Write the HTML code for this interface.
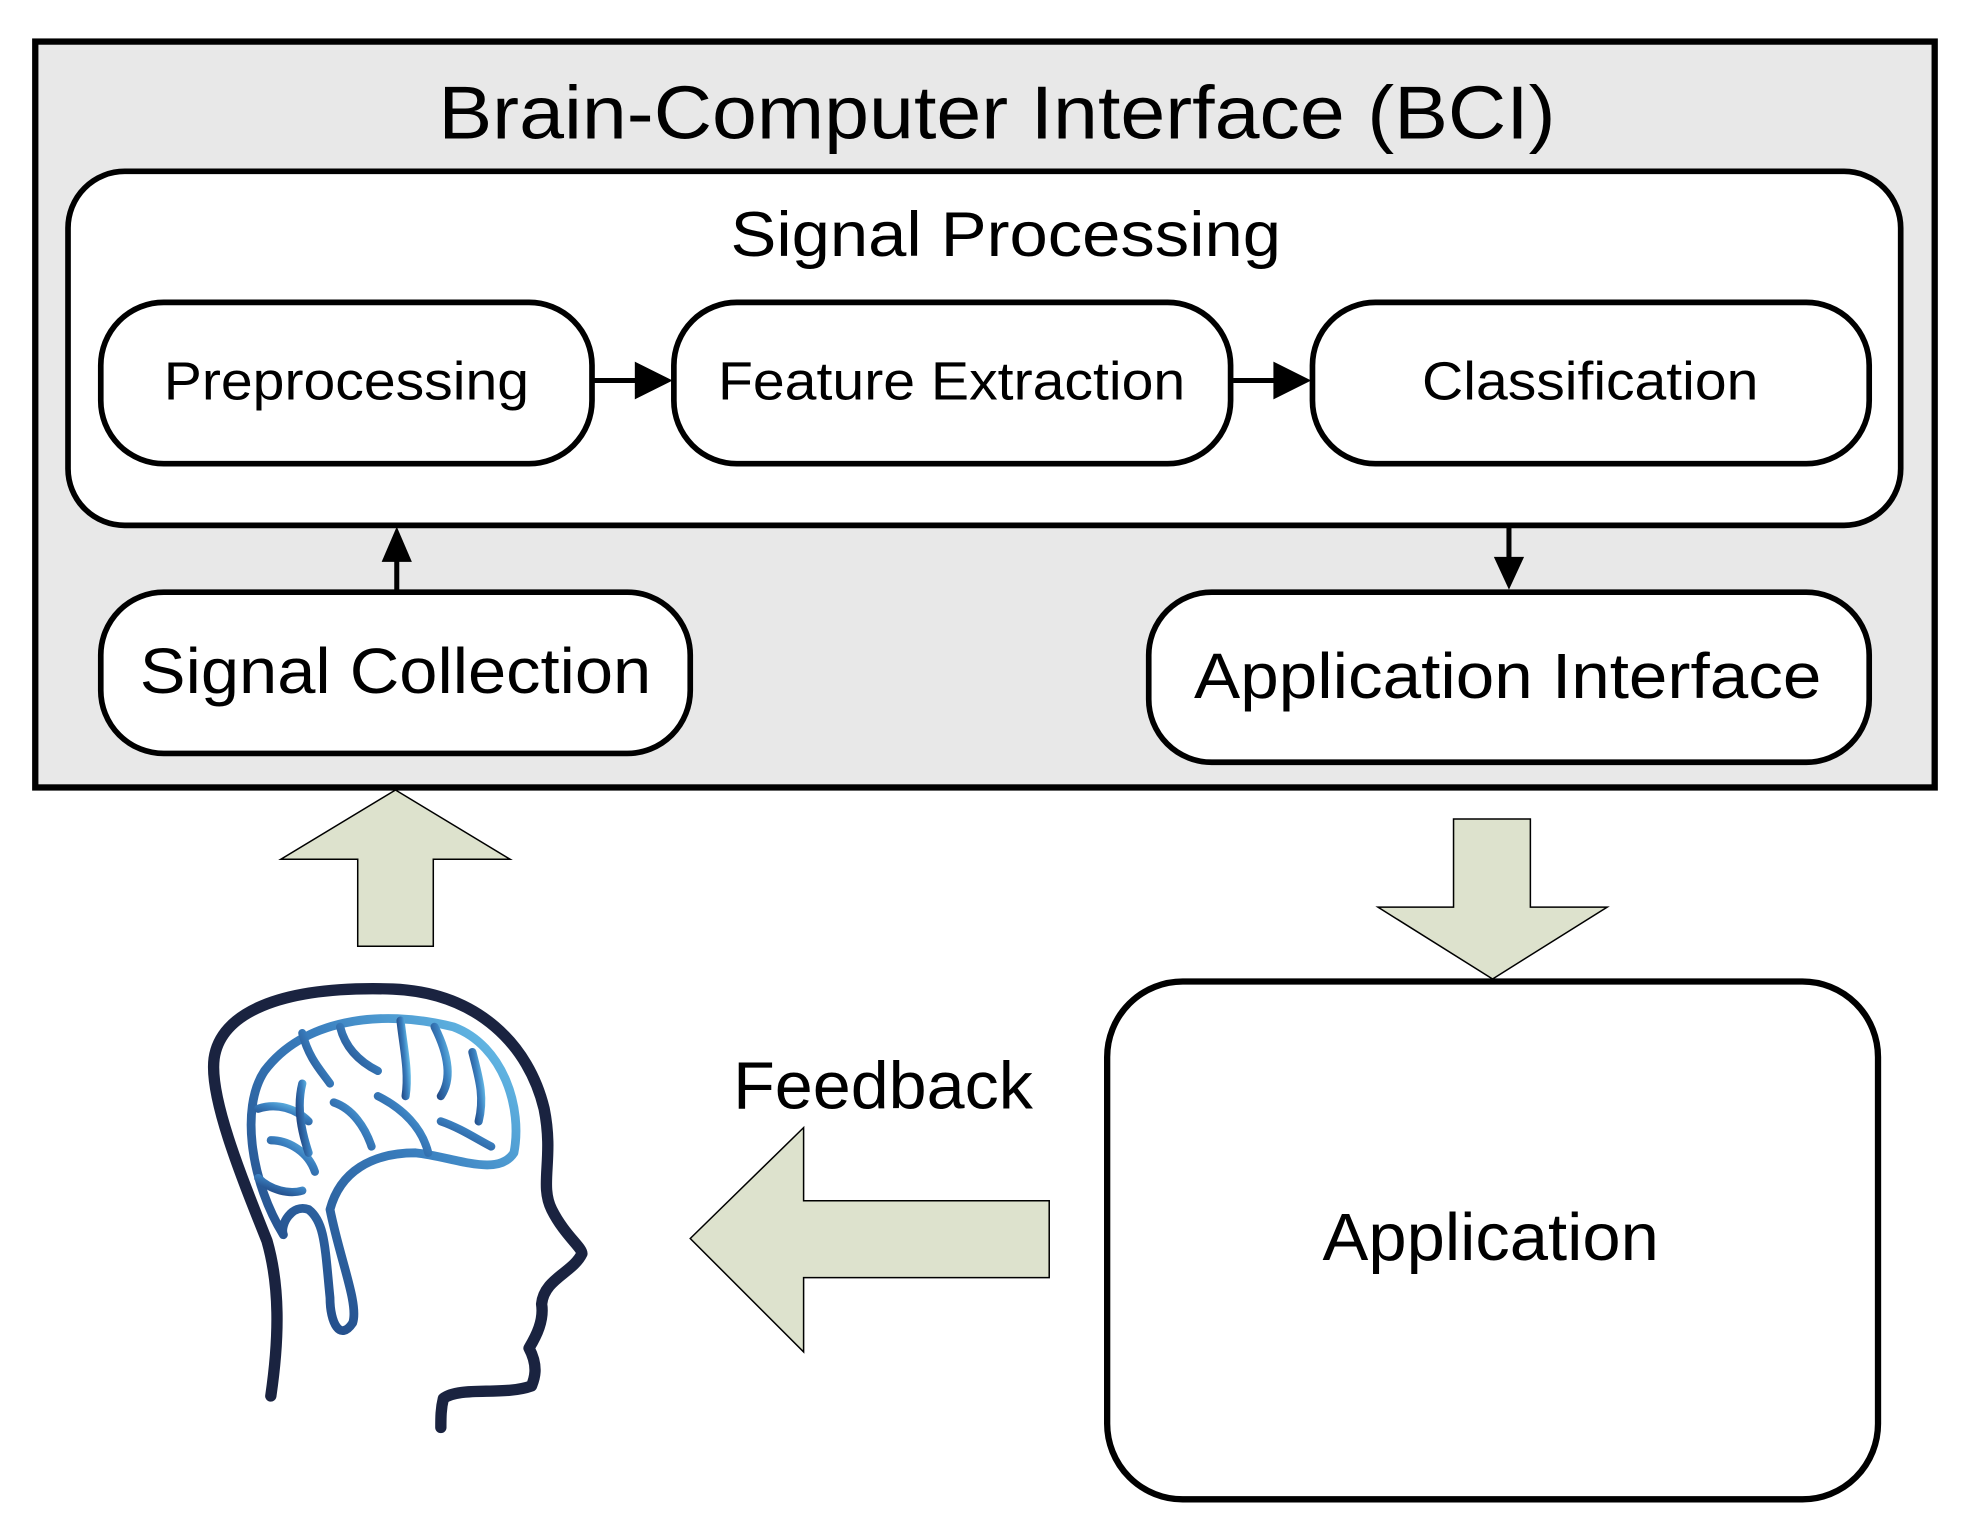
<!DOCTYPE html>
<html><head><meta charset="utf-8"><style>
html,body{margin:0;padding:0;background:#fff;}
svg{display:block;}
text{font-family:"Liberation Sans",Arial,sans-serif;fill:#000;}
</style></head><body>
<svg width="1975" height="1522" viewBox="0 0 1568 1208" preserveAspectRatio="none" xmlns="http://www.w3.org/2000/svg">
<defs>
<linearGradient id="bg" x1="0" y1="1" x2="1" y2="0">
<stop offset="0" stop-color="#1d3f7a"/><stop offset="0.6" stop-color="#3a7fbf"/><stop offset="1" stop-color="#6cc4ec"/>
</linearGradient>
</defs>
<rect x="28" y="33" width="1508" height="592" fill="#e8e8e8" stroke="#000" stroke-width="5"/>
<text x="348" y="110" font-size="60" textLength="887" lengthAdjust="spacingAndGlyphs">Brain-Computer Interface (BCI)</text>
<rect x="54" y="136" width="1455" height="281" rx="45" fill="#fff" stroke="#000" stroke-width="4.5"/>
<text x="580" y="203" font-size="50" textLength="437" lengthAdjust="spacingAndGlyphs">Signal Processing</text>
<rect x="80" y="240" width="390" height="128" rx="50" fill="#fff" stroke="#000" stroke-width="4.5"/>
<text x="130" y="317" font-size="43" textLength="290" lengthAdjust="spacingAndGlyphs">Preprocessing</text>
<rect x="535" y="240" width="442" height="128" rx="50" fill="#fff" stroke="#000" stroke-width="4.5"/>
<text x="570" y="317" font-size="43" textLength="371" lengthAdjust="spacingAndGlyphs">Feature Extraction</text>
<rect x="1042" y="240" width="442" height="128" rx="50" fill="#fff" stroke="#000" stroke-width="4.5"/>
<text x="1129" y="317" font-size="43" textLength="267" lengthAdjust="spacingAndGlyphs">Classification</text>
<line x1="472" y1="302" x2="508" y2="302" stroke="#000" stroke-width="4"/>
<path d="M504,287 L534,302 L504,317 Z" fill="#000"/>
<line x1="979" y1="302" x2="1015" y2="302" stroke="#000" stroke-width="4"/>
<path d="M1011,287 L1041,302 L1011,317 Z" fill="#000"/>
<rect x="80" y="470" width="468" height="128" rx="50" fill="#fff" stroke="#000" stroke-width="4.5"/>
<text x="111" y="550" font-size="51" textLength="406" lengthAdjust="spacingAndGlyphs">Signal Collection</text>
<rect x="912" y="470" width="572" height="135" rx="50" fill="#fff" stroke="#000" stroke-width="4.5"/>
<text x="948" y="554" font-size="51" textLength="498" lengthAdjust="spacingAndGlyphs">Application Interface</text>
<line x1="315" y1="470" x2="315" y2="440" stroke="#000" stroke-width="4"/>
<path d="M303,446 L315,418 L327,446 Z" fill="#000"/>
<line x1="1198" y1="418" x2="1198" y2="446" stroke="#000" stroke-width="4"/>
<path d="M1186,442 L1198,468 L1210,442 Z" fill="#000"/>
<path d="M314,627 L405,682 L344,682 L344,751 L284,751 L284,682 L223,682 Z" fill="#dde2cd" stroke="#000" stroke-width="1.2"/>
<path d="M1154,650 L1215,650 L1215,720 L1276,720 L1185,777 L1094,720 L1154,720 Z" fill="#dde2cd" stroke="#000" stroke-width="1.2"/>
<path d="M548,983 L638,895 L638,953 L833,953 L833,1014 L638,1014 L638,1073 Z" fill="#dde2cd" stroke="#000" stroke-width="1.2"/>
<rect x="879" y="779" width="612" height="411" rx="60" fill="#fff" stroke="#000" stroke-width="5"/>
<text x="1050" y="1000" font-size="53" textLength="267" lengthAdjust="spacingAndGlyphs">Application</text>
<text x="582" y="880" font-size="53" textLength="238" lengthAdjust="spacingAndGlyphs">Feedback</text>
<!-- head -->
<path d="M215,1108 C222,1060 222,1020 212,985 C190,930 166,870 170,840 C175,805 220,782 312,785 C380,788 420,830 432,880 C440,920 428,940 438,960 C448,980 462,990 462,995 C455,1010 432,1015 430,1035 C432,1048 426,1060 420,1070 C428,1085 424,1095 422,1100 C400,1108 365,1100 352,1110 C350,1118 350,1125 350,1133" fill="none" stroke="#1a2340" stroke-width="9" stroke-linecap="round" stroke-linejoin="round"/>
<path d="M225,980 C200,940 190,880 210,850 C240,810 300,800 360,815 C400,830 415,880 408,915 C395,935 360,918 330,915 C295,915 270,930 262,960 C270,1000 285,1035 280,1050 C270,1065 262,1050 262,1030 C258,990 258,970 245,960 C232,955 222,972 225,980 Z" fill="none" stroke="url(#bg)" stroke-width="7" stroke-linecap="round" stroke-linejoin="round"/>
<g fill="none" stroke="url(#bg)" stroke-width="6.5" stroke-linecap="round">
<path d="M240,820 C245,840 255,850 262,860"/>
<path d="M270,815 C275,835 290,845 300,850"/>
<path d="M318,810 C320,830 325,850 322,870"/>
<path d="M345,815 C355,835 360,855 350,870"/>
<path d="M375,835 C380,855 385,870 380,890"/>
<path d="M205,880 C220,875 235,880 245,890"/>
<path d="M215,905 C230,905 245,915 250,930"/>
<path d="M205,935 C215,945 230,948 240,945"/>
<path d="M265,875 C280,880 290,895 295,910"/>
<path d="M300,870 C320,880 335,895 340,915"/>
<path d="M350,890 C365,895 380,905 390,910"/>
<path d="M240,860 C235,880 240,900 245,915"/>
</g>
</svg>
</body></html>
